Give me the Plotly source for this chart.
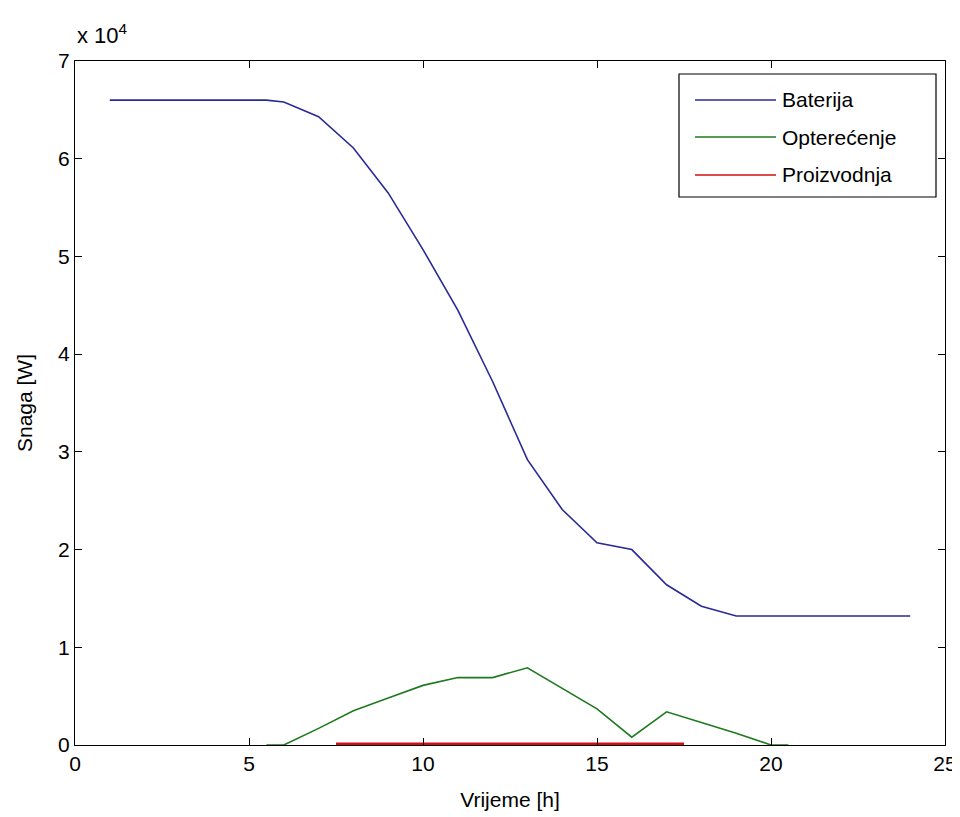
import plotly.graph_objects as go

# ---- data ----
hours_bat = [1, 2, 3, 4, 5, 5.5, 6, 7, 8, 9, 10, 11, 12, 13, 14, 15, 16, 17, 18, 19, 20, 21, 22, 23, 24]
baterija = [66000, 66000, 66000, 66000, 66000, 66000, 65800, 64300, 61100, 56500, 50700, 44500,
            37200, 29200, 24100, 20700, 20000, 16400, 14200, 13200, 13200, 13200, 13200, 13200, 13200]

hours_opt = [5.5, 6, 7, 8, 9, 10, 11, 12, 13, 14, 15, 16, 17, 18, 19, 20, 20.5]
opterecenje = [0, 0, 1700, 3500, 4800, 6100, 6900, 6900, 7900, 5800, 3700, 800, 3400, 2300, 1200, 0, 0]

hours_pro = [7.5, 8.5, 9.5, 10.5, 11.5, 12.5, 13.5, 14.5, 15.5, 16.5, 17.5]
proizvodnja = [100, 100, 100, 100, 100, 100, 100, 100, 100, 100, 100]

x_ticks = [0, 5, 10, 15, 20, 25]
y_tickvals = [0, 10000, 20000, 30000, 40000, 50000, 60000, 70000]
y_ticktext = ["0", "1", "2", "3", "4", "5", "6", "7"]

names = ["Baterija", "Optere\u0107enje", "Proizvodnja"]
colors = ["#2a2a96", "#1f7a1f", "#d01010"]

FONT = "Liberation Sans, Arial, sans-serif"
FS = 21

fig = go.Figure()
fig.add_trace(go.Scatter(x=hours_bat, y=baterija, mode="lines", name=names[0],
                         line=dict(color=colors[0], width=1.6)))
fig.add_trace(go.Scatter(x=hours_opt, y=opterecenje, mode="lines", name=names[1],
                         line=dict(color=colors[1], width=1.6)))
fig.add_trace(go.Scatter(x=hours_pro, y=proizvodnja, mode="lines", name=names[2],
                         line=dict(color=colors[2], width=3)))

OFF = 8  # page offset of the figure inside the browser window
W, H = 960 - OFF, 817 - OFF
L, T = 75 - OFF, 61 - OFF
R = W - (945 - OFF)
B = H - (745 - OFF)

def px(xp):
    return (xp - OFF - L) / (W - L - R)

def py(yp):
    return (H - B - (yp - OFF)) / (H - T - B)

shapes = [dict(type="rect", xref="paper", yref="paper",
               x0=px(679), x1=px(936), y0=py(197), y1=py(74),
               line=dict(color="black", width=1.2), fillcolor="white", layer="above")]
annotations = []
rows = [100, 137, 175]
for name, col, ry in zip(names, colors, rows):
    shapes.append(dict(type="line", xref="paper", yref="paper",
                       x0=px(695), x1=px(776), y0=py(ry), y1=py(ry),
                       line=dict(color=col, width=1.6), layer="above"))
    annotations.append(dict(xref="paper", yref="paper", x=px(780), y=py(ry),
                            xanchor="left", yanchor="middle", text=name, showarrow=False,
                            font=dict(family=FONT, size=FS, color="black")))

annotations.append(dict(xref="paper", yref="paper", x=px(75), y=py(50),
                        xanchor="left", yanchor="bottom", text="x 10<sup>4</sup>",
                        showarrow=False, font=dict(family=FONT, size=FS + 1, color="black")))

fig.update_layout(
    width=W, height=H,
    margin=dict(l=L, r=R, t=T, b=B, autoexpand=False),
    paper_bgcolor="white", plot_bgcolor="white",
    showlegend=False,
    font=dict(family=FONT, size=FS, color="black"),
    shapes=shapes, annotations=annotations,
)
fig.update_xaxes(range=[0, 25], tickvals=x_ticks, ticks="inside", ticklen=7, tickcolor="black",
                 showline=True, linecolor="black", linewidth=1.2, mirror="ticks",
                 showgrid=False, zeroline=False,
                 tickfont=dict(family=FONT, size=FS, color="black"),
                 title=dict(text="Vrijeme [h]", standoff=18,
                            font=dict(family=FONT, size=FS, color="black")))
fig.update_yaxes(range=[0, 70000], tickvals=y_tickvals, ticktext=y_ticktext,
                 ticks="inside", ticklen=7, tickcolor="black",
                 showline=True, linecolor="black", linewidth=1.2, mirror="ticks",
                 showgrid=False, zeroline=False,
                 tickfont=dict(family=FONT, size=FS, color="black"),
                 title=dict(text="Snaga [W]", standoff=19,
                            font=dict(family=FONT, size=FS, color="black")))

fig.write_html("out.html")
